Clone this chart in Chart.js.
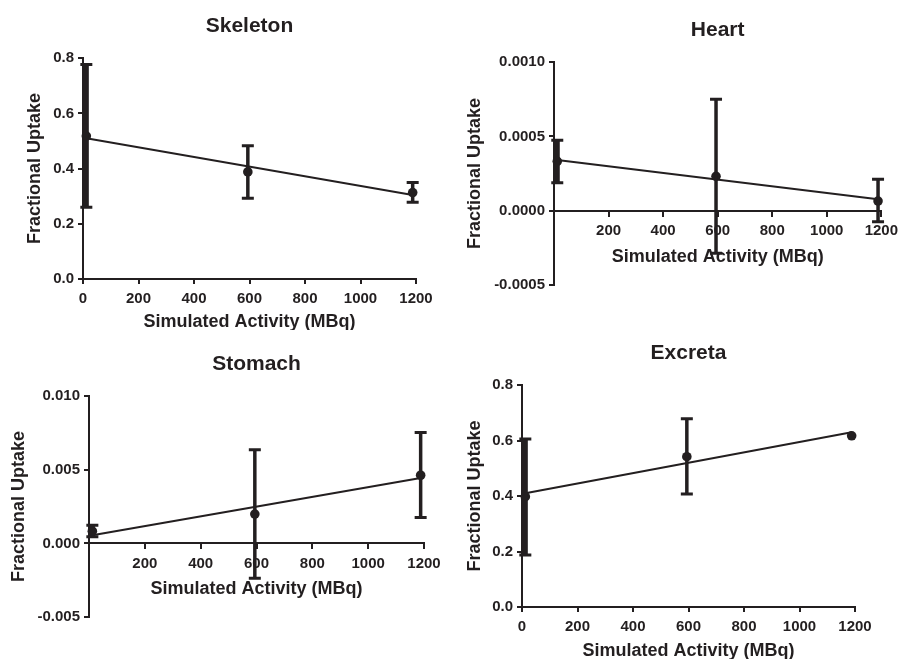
<!DOCTYPE html>
<html>
<head>
<meta charset="utf-8">
<script src="https://cdn.jsdelivr.net/npm/chart.js@4.4.1/dist/chart.umd.min.js"></script>
<style>
  body { margin: 0; background: #fff; }
  .panel { position: absolute; }
</style>
</head>
<body>
<div class="panel" style="left:0;top:0"><canvas id="skeleton" width="452" height="330"></canvas></div>
<div class="panel" style="left:452px;top:0"><canvas id="heart" width="452" height="330"></canvas></div>
<div class="panel" style="left:0;top:330px"><canvas id="stomach" width="452" height="329"></canvas></div>
<div class="panel" style="left:452px;top:330px"><canvas id="excreta" width="452" height="329"></canvas></div>
<script>
// simulated activity (MBq) for the three groups, and the ends of the fit line
const activity = [12, 594, 1188];
const fitActivity = [12, 1188];

const skeletonMean = [0.518, 0.388, 0.313];
const skeletonLow = [0.26, 0.293, 0.278];
const skeletonHigh = [0.777, 0.483, 0.350];
const skeletonFit = [0.51, 0.304];

const heartMean = [0.000333, 0.000232, 0.0000654];
const heartLow = [0.000189, -0.000287, -0.000074];
const heartHigh = [0.000474, 0.000751, 0.000212];
const heartFit = [0.000342, 0.0000768];

const stomachMean = [0.00083, 0.00199, 0.00463];
const stomachLow = [0.00045, -0.00237, 0.00176];
const stomachHigh = [0.00124, 0.00637, 0.00754];
const stomachFit = [0.00056, 0.00444];

const excretaMean = [0.398, 0.542, 0.6175];
const excretaLow = [0.188, 0.408, null];
const excretaHigh = [0.606, 0.679, null];
const excretaFit = [0.41, 0.63];

const INK = '#231f20';
Chart.defaults.font.family = "'Liberation Sans', Arial, sans-serif";
Chart.defaults.font.weight = 'bold';
Chart.defaults.color = INK;

// vertical error bars with caps, read from the first dataset
const errorBars = {
  id: 'errorBars',
  afterDatasetsDraw(chart) {
    const ds = chart.data.datasets[0];
    const { ctx, scales: { x, y } } = chart;
    ctx.save();
    ctx.strokeStyle = INK;
    ds.data.forEach((pt, i) => {
      const lo = ds.errLow[i], hi = ds.errHigh[i];
      if (lo == null || hi == null) return;
      const px = x.getPixelForValue(pt.x);
      const top = y.getPixelForValue(hi);
      const bot = y.getPixelForValue(lo);
      ctx.lineWidth = ds.errWidth[i];
      ctx.beginPath();
      ctx.moveTo(px, top);
      ctx.lineTo(px, bot);
      ctx.stroke();
      ctx.lineWidth = 3;
      ctx.beginPath();
      ctx.moveTo(px - 6, top); ctx.lineTo(px + 6, top);
      ctx.moveTo(px - 6, bot); ctx.lineTo(px + 6, bot);
      ctx.stroke();
    });
    ctx.restore();
  }
};

function makeChart(id, p) {
  const gridOpts = { display: true, drawOnChartArea: false, drawTicks: true, tickLength: 5, color: INK, lineWidth: 2 };
  const xScale = {
    type: 'linear',
    min: 0,
    max: 1200,
    position: p.crossAtZero ? { y: 0 } : 'bottom',
    ticks: {
      stepSize: 200,
      padding: 6,
      font: { size: 15 },
      callback: v => (p.crossAtZero && v === 0) ? '' : String(v)
    },
    grid: gridOpts,
    border: { display: true, color: INK, width: 2 },
    title: { display: true, text: 'Simulated Activity (MBq)', font: { size: 18, weight: 'bold' },
             padding: { top: 0, bottom: p.crossAtZero ? 0 : -3 } }
  };
  if (!p.crossAtZero) xScale.afterFit = s => { s.height = p.xHeight; };

  return new Chart(document.getElementById(id), {
    type: 'scatter',
    data: {
      datasets: [
        {
          data: activity.map((a, i) => ({ x: a, y: p.mean[i] })),
          errLow: p.low,
          errHigh: p.high,
          errWidth: [5, 3.5, 3.5],
          pointRadius: 4.8,
          backgroundColor: INK,
          borderWidth: 0,
          clip: false
        },
        {
          data: fitActivity.map((a, i) => ({ x: a, y: p.fit[i] })),
          showLine: true,
          pointRadius: 0,
          borderColor: INK,
          borderWidth: 2,
          clip: false
        }
      ]
    },
    options: {
      responsive: false,
      animation: false,
      devicePixelRatio: 1,
      layout: { padding: p.pad },
      plugins: {
        legend: { display: false },
        tooltip: { enabled: false },
        title: {
          display: true,
          text: p.title,
          fullSize: false,
          font: { size: 21, weight: 'bold' },
          padding: p.titlePad
        }
      },
      scales: {
        x: xScale,
        y: {
          min: p.yMin,
          max: p.yMax,
          ticks: { stepSize: p.yStep, padding: 4, font: { size: 15 }, callback: v => Number(v).toFixed(p.dp) },
          grid: gridOpts,
          border: { display: true, color: INK, width: 2 },
          title: { display: true, text: 'Fractional Uptake', font: { size: 18, weight: 'bold' }, padding: { top: p.yTitlePad, bottom: 0 } },
          afterFit: s => { s.width = p.yWidth; }
        }
      }
    },
    plugins: [errorBars]
  });
}

makeChart('skeleton', {
  title: 'Skeleton', mean: skeletonMean, low: skeletonLow, high: skeletonHigh, fit: skeletonFit,
  yMin: 0, yMax: 0.8, yStep: 0.2, dp: 1,
  pad: { left: 0, right: 36, top: 0, bottom: 0 },
  titlePad: { top: 14, bottom: 19 }, yWidth: 83, yTitlePad: 24, xHeight: 51
});

makeChart('heart', {
  title: 'Heart', mean: heartMean, low: heartLow, high: heartHigh, fit: heartFit,
  yMin: -0.0005, yMax: 0.001, yStep: 0.0005, dp: 4, crossAtZero: true,
  pad: { left: 0, right: 17, top: 0, bottom: 45 },
  titlePad: { top: 18, bottom: 19 }, yWidth: 102, yTitlePad: 12
});

makeChart('stomach', {
  title: 'Stomach', mean: stomachMean, low: stomachLow, high: stomachHigh, fit: stomachFit,
  yMin: -0.005, yMax: 0.01, yStep: 0.005, dp: 3, crossAtZero: true,
  pad: { left: 0, right: 28, top: 0, bottom: 42 },
  titlePad: { top: 22, bottom: 19 }, yWidth: 89, yTitlePad: 8
});

makeChart('excreta', {
  title: 'Excreta', mean: excretaMean, low: excretaLow, high: excretaHigh, fit: excretaFit,
  yMin: 0, yMax: 0.8, yStep: 0.2, dp: 1,
  pad: { left: 0, right: 49, top: 0, bottom: 0 },
  titlePad: { top: 11, bottom: 19 }, yWidth: 70, yTitlePad: 12, xHeight: 52
});
</script>
</body>
</html>
